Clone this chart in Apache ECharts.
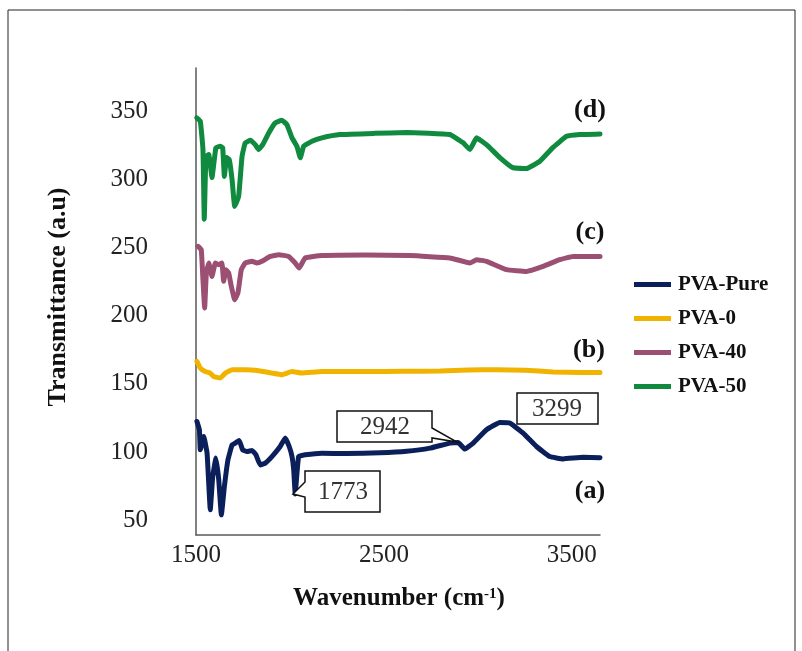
<!DOCTYPE html>
<html>
<head>
<meta charset="utf-8">
<script src="https://cdn.jsdelivr.net/npm/echarts@6/dist/echarts.min.js"></script>
<style>html,body{margin:0;padding:0;background:#fff}#c{width:802px;height:651px}</style>
</head>
<body>
<div id="c"></div>
<script>
var seriesNames = ['PVA-Pure', 'PVA-0', 'PVA-40', 'PVA-50'];
var seriesColors = ['#0b1f5b', '#f0b400', '#9b4f73', '#0f8a3e'];
var xTicks = [1500, 2500, 3500];
var yTicks = [50, 100, 150, 200, 250, 300, 350];

var pureX = [1505,1518,1523,1541,1559,1576,1589,1606,1621,1635,1651,1670,1692,1709,1730,1748,1771,1798,1819,1842,1869,1904,1948,1975,1996,2011,2020,2028,2046,2081,2170,2300,2479,2620,2745,2851,2895,2931,2975,3046,3117,3170,3241,3312,3383,3454,3560,3650];
var pureY = [122.4,116.3,101.6,111.3,99.1,57.5,81.9,95.5,79.5,53.8,74.6,94.2,105.2,106.5,108.4,101.6,100.3,101.1,97.9,90.5,91.8,96.6,104,110.2,104,96.6,86.9,69.2,96.6,97.9,99.1,98.8,99.4,100.5,102.8,106.5,106.9,102.1,106.5,116.3,121.6,121.2,113.8,104,96.6,94.9,96.1,95.8];

var p0X = [1505,1523,1549,1576,1594,1629,1656,1692,1762,1834,1904,1957,2011,2064,2170,2400,2600,2800,2950,3100,3250,3400,3550,3650];
var p0Y = [166.5,161.6,159.1,157.9,155.4,154.3,157.9,160.4,160.4,159.6,157.9,156.7,159.1,157.9,159.1,159.0,159.2,159.4,160.2,160.4,160.0,158.8,158.3,158.4];

var p40X = [1511,1528,1537,1546,1555,1568,1585,1603,1621,1638,1647,1660,1674,1688,1706,1723,1741,1762,1798,1824,1851,1895,1940,1993,2028,2049,2081,2170,2400,2638,2851,2958,2993,3046,3153,3259,3347,3436,3507,3650];
var p40Y = [251,248.6,226.5,205.7,231.4,238.8,228.9,238.8,237.5,238.8,225.3,233.9,231.4,221.6,211.8,216.7,233.9,238.8,240,238.8,240,243.6,244.9,243.6,238.8,235.1,242.5,244.2,244.6,244.2,242.5,238.8,241.2,240,233.9,232.6,236.3,241.2,243.6,243.6];

var p50X = [1504,1523,1537,1544,1553,1568,1585,1606,1629,1642,1651,1663,1677,1692,1706,1727,1745,1762,1789,1815,1834,1855,1887,1922,1957,1984,2011,2037,2055,2073,2117,2170,2266,2450,2622,2851,2920,2958,2993,3046,3117,3186,3259,3330,3399,3472,3543,3650];
var p50Y = [345.4,342.9,322.1,271,317.1,318.4,301.5,323.5,324.5,323.5,302.4,316.2,314.7,300,280.4,287.7,317.1,327,328.9,325.7,322.1,325.7,334.3,341.7,343.6,340.4,330.7,324.5,316,324.5,328.2,330.7,333.1,334,334.6,333.1,327.2,322.1,330.7,325.7,316.2,308.8,308.1,313.5,323.5,331.8,333.1,333.6];

var curveLabels = ['(a)', '(b)', '(c)', '(d)'];
var calloutTexts = ['1773', '2942', '3299'];

function pairs(xs, ys) { return xs.map(function (x, i) { return [x, ys[i]]; }); }
var allX = [pureX, p0X, p40X, p50X];
var allY = [pureY, p0Y, p40Y, p50Y];

var chart = echarts.init(document.getElementById('c'), null, { renderer: 'canvas' });
var serif = 'Liberation Serif, Times New Roman, serif';

var series = seriesNames.map(function (n, i) {
  return {
    name: n, type: 'line', data: pairs(allX[i], allY[i]),
    showSymbol: false, smooth: 0.1,
    lineStyle: { color: seriesColors[i], width: 5, join: 'round', cap: 'round' },
    itemStyle: { color: seriesColors[i] },
    z: 2
  };
});

var labelStyle = { font: 'bold 26px ' + serif, fill: '#111', textAlign: 'center', textVerticalAlign: 'middle' };
var boxText = { font: '25px ' + serif, fill: '#333', textAlign: 'center', textVerticalAlign: 'middle' };
var boxStyle = { fill: '#fff', stroke: '#111', lineWidth: 1.5 };

var option = {
  animation: false,
  backgroundColor: '#fff',
  grid: { left: 196, right: 202, top: 68, bottom: 116 },
  xAxis: {
    type: 'value', min: 1500, max: 3650,
    axisLine: { show: true, lineStyle: { color: '#595959', width: 1.5 } },
    axisTick: { show: false },
    splitLine: { show: false },
    axisLabel: { customValues: xTicks, formatter: function (v) { return String(v); }, color: '#222', fontFamily: serif, fontSize: 25, margin: 8 }
  },
  yAxis: {
    type: 'value', min: 39, max: 382,
    axisLine: { show: true, lineStyle: { color: '#595959', width: 1.5 } },
    axisTick: { show: false },
    splitLine: { show: false },
    axisLabel: { customValues: yTicks, formatter: function (v) { return String(v); }, color: '#222', fontFamily: serif, fontSize: 25, margin: 48 }
  },
  legend: {
    orient: 'vertical', left: 629, top: 269,
    icon: 'rect', itemWidth: 37, itemHeight: 5, itemGap: 13,
    data: seriesNames,
    textStyle: { fontFamily: serif, fontWeight: 'bold', fontSize: 21, color: '#111', lineHeight: 21, padding: [0, 0, 0, 2] }
  },
  series: series,
  graphic: [
    { type: 'rect', shape: { x: 8, y: 10, width: 787, height: 660 }, style: { fill: 'none', stroke: '#222', lineWidth: 1 }, silent: true },
    { type: 'text', x: 58, y: 297, rotation: Math.PI / 2,
      style: { text: 'Transmittance (a.u)', font: 'bold 26px ' + serif, fill: '#111', textAlign: 'center', textVerticalAlign: 'middle' } },
    { type: 'text', x: 399, y: 599,
      style: { text: '{t|Wavenumber (cm}{s|-1}{t|)}', textAlign: 'center', textVerticalAlign: 'middle',
        rich: { t: { font: 'bold 25px ' + serif, fill: '#111' }, s: { font: 'bold 15px ' + serif, fill: '#111', verticalAlign: 'top', padding: [0, 0, 10, 0] } } } },
    { type: 'text', x: 590, y: 491, style: Object.assign({ text: curveLabels[0] }, labelStyle) },
    { type: 'text', x: 589, y: 350, style: Object.assign({ text: curveLabels[1] }, labelStyle) },
    { type: 'text', x: 590, y: 232, style: Object.assign({ text: curveLabels[2] }, labelStyle) },
    { type: 'text', x: 590, y: 110, style: Object.assign({ text: curveLabels[3] }, labelStyle) },
    { type: 'polygon', z: 10, shape: { points: [[305,471],[380,471],[380,512],[305,512],[305,497],[293,494],[305,482]] }, style: boxStyle },
    { type: 'text', z: 11, x: 343, y: 492, style: Object.assign({ text: calloutTexts[0] }, boxText) },
    { type: 'polygon', z: 10, shape: { points: [[337,411],[432,411],[432,428],[457,442],[432,438],[432,442],[337,442]] }, style: boxStyle },
    { type: 'text', z: 11, x: 385, y: 427, style: Object.assign({ text: calloutTexts[1] }, boxText) },
    { type: 'rect', z: 10, shape: { x: 517, y: 393, width: 81, height: 31 }, style: boxStyle },
    { type: 'text', z: 11, x: 557, y: 409, style: Object.assign({ text: calloutTexts[2] }, boxText) }
  ]
};
chart.setOption(option);
</script>
</body>
</html>
